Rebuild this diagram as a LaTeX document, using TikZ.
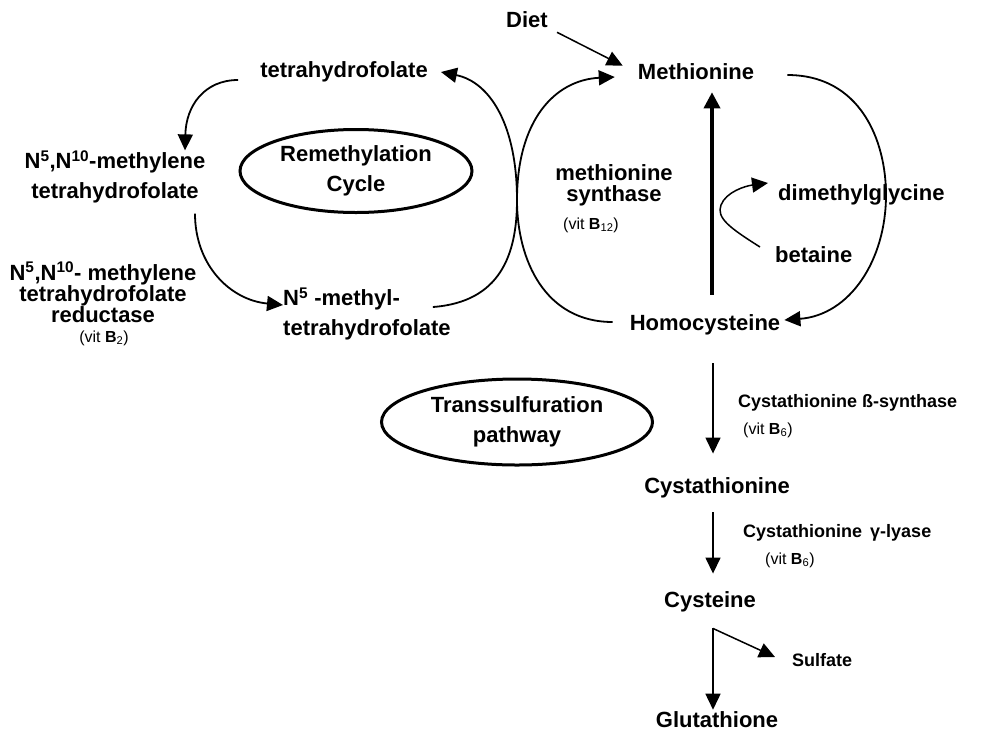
\documentclass[tikz,border=0pt]{standalone}
\usepackage{fontspec}
\setmainfont{Liberation Sans}
\usepackage{tikz}
\usetikzlibrary{arrows.meta, shapes.geometric}

\tikzset{
  lbl/.style={font=\bfseries\fontsize{22}{30}\selectfont, inner sep=0pt},
  tight/.style={font=\bfseries\fontsize{22}{21}\selectfont, inner sep=0pt},
  small/.style={font=\bfseries\fontsize{18}{20}\selectfont, inner sep=0pt},
  vit/.style={font=\fontsize{16}{18}\selectfont, inner sep=0pt},
  ring/.style={draw, ellipse, line width=3pt, inner sep=0pt, align=center,
    font=\bfseries\fontsize{22}{30}\selectfont},
  flow/.style={-{Triangle[length=16pt,width=15pt]}, line width=1.5pt},
  curvy/.style={flow, line width=1.8pt},
  bigflow/.style={-{Triangle[length=16pt,width=16pt]}, line width=3.5pt}
}

\begin{document}
\begin{tikzpicture}[x=1pt, y=-1pt]
  \fill[white] (0,0) rectangle (987,734);
  \useasboundingbox (0,0) rectangle (987,734);

  % metabolites
  \node[lbl] (diet) at (527,20) {Diet};
  \node[lbl] (met) at (696,72) {Methionine};
  \node[lbl] (thf) at (344,72) {tetrahydrofolate};
  \node[lbl, align=center] (mthf) at (115,177)
    {N\textsuperscript{5},N\textsuperscript{10}-methylene\\tetrahydrofolate};
  \node[lbl, align=left, anchor=west] (methf) at (283,314)
    {N\textsuperscript{5} -methyl-\\tetrahydrofolate};
  \node[lbl] (hcy) at (705,325) {Homocysteine};
  \node[lbl, anchor=west] (dmg) at (778,195) {dimethylglycine};
  \node[lbl, anchor=west] (bet) at (775,255) {betaine};
  \node[lbl] (cysta) at (717,488) {Cystathionine};
  \node[lbl] (cys) at (710,602) {Cysteine};
  \node[small, anchor=west] (sulf) at (792,660) {Sulfate};
  \node[lbl] (glu) at (717,720) {Glutathione};

  % cycles
  \node[ring, minimum width=232pt, minimum height=83pt] (remeth) at (356,171)
    {Remethylation\\Cycle};
  \node[ring, minimum width=271pt, minimum height=86pt] (transs) at (517,422)
    {Transsulfuration\\pathway};

  % enzymes
  \node[tight, align=center] (msyn) at (614,185) {methionine\\synthase};
  \node[vit] (b12) at (591,225) {(vit \textbf{B}\textsubscript{12})};
  \node[tight, align=center] (red) at (103,292)
    {N\textsuperscript{5},N\textsuperscript{10}- methylene\\tetrahydrofolate\\reductase};
  \node[vit] (b2) at (104,338) {(vit \textbf{B}\textsubscript{2})};
  \node[small, anchor=west] (cbs) at (738,403) {Cystathionine ß-synthase};
  \node[vit, anchor=west] (b6a) at (743,430) {(vit \textbf{B}\textsubscript{6})};
  \node[small, anchor=west] (cgl) at (743,533) {Cystathionine \,γ-lyase};
  \node[vit, anchor=west] (b6b) at (765,560) {(vit \textbf{B}\textsubscript{6})};

  \coordinate (br) at ([shift={(3,16)}]cys.south);

  % connectors
  \draw[flow] ([shift={(9,4)}]diet.south east) -- ([shift={(-15,2)}]met.north west);
  \draw[bigflow] ([shift={(7,-20)}]hcy.north) -- ([shift={(16,12)}]met.south);
  \draw[curvy] ([shift={(-18,-7)}]methf.east) .. controls (500,302) and (517,255) .. (517,200)
    .. controls (517,120) and (555,80) .. ([shift={(-23,5)}]met.west);
  \draw[curvy] ([shift={(-17,-3)}]hcy.west) .. controls (545,322) and (517,260) .. (517,200)
    .. controls (517,125) and (490,82) .. ([xshift=13pt]thf.east);
  \draw[curvy] ([shift={(33,3)}]met.east) .. controls (860,75) and (886,140) .. (886,195)
    .. controls (886,260) and (850,315) .. ([shift={(4,-5)}]hcy.east);
  \draw[curvy] ([shift={(-22,8)}]thf.west) .. controls (205,80) and (186,105) .. ([xshift=70pt]mthf.north);
  \draw[curvy] ([shift={(80,10)}]mthf.south) .. controls (195,265) and (230,300) .. ([shift={(0,-9)}]methf.west);
  \draw[flow] ([shift={(-15,-8)}]bet.west) .. controls (730,228) and (716,218) .. (721,205)
    .. controls (726,192) and (745,186) .. ([shift={(-10,-12)}]dmg.west);
  \draw[flow] ([shift={(8,28)}]hcy.south) -- ([shift={(-4,-24)}]cysta.north);
  \draw[flow] ([shift={(-4,14)}]cysta.south) -- ([shift={(3,-18)}]cys.north);
  \draw[flow] (br) -- ([shift={(-4,-2)}]glu.north);
  \draw[flow] (br) -- ([shift={(-17,-3)}]sulf.west);
\end{tikzpicture}
\end{document}
